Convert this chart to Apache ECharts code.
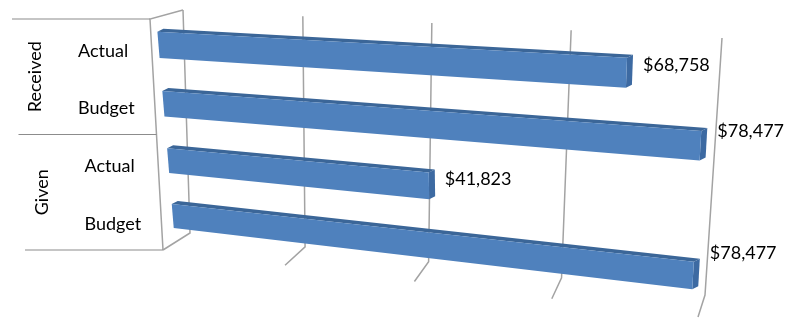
<!DOCTYPE html>
<html>
<head>
<meta charset="utf-8">
<script src="https://cdn.jsdelivr.net/npm/echarts@6.0.0/dist/echarts.min.js"></script>
<style>
  html, body { margin: 0; padding: 0; background: #fff; }
  #chart { width: 791px; height: 318px; }
</style>
</head>
<body>
<div id="chart"></div>
<script>
// 数据
const groups = ['Received', 'Given'];
const categories = ['Actual', 'Budget', 'Actual', 'Budget'];
const values = [68758, 78477, 41823, 78477];
const valueTicks = [0, 20000, 40000, 60000, 80000];

// 3D 透视布局（屏幕四边形：左上、右上、右下、左下）
const BAR_PLANE = [[156, 15], [719, 43], [703, 308], [175, 243]];
const BACK_WALL = [[183, 10], [722, 38], [705, 295], [190, 233]];
const FLOOR = [[190, 233], [705, 295], [698, 317], [163, 250]];
const WALL_FRONT = [[150, 19], [163, 250]];
const DEPTH = [6, -3];          // 柱体厚度方向
const BAR_RATIO = 0.44;
const labelNudge = [7, 0, 7, -8];
const FONT = 'Lato, "Open Sans", sans-serif';

const BLUE = '#4f81bd';
const BLUE_TOP = '#3b6698';
const BLUE_END = '#3d6aa2';
const GRID_COLOR = '#a3a3a3';

// 单位正方形 -> 四边形 的透视映射
function quadMap(q) {
    const [x0, y0] = q[0], [x1, y1] = q[1], [x2, y2] = q[2], [x3, y3] = q[3];
    const dx1 = x1 - x2, dx2 = x3 - x2, dx3 = x0 - x1 + x2 - x3;
    const dy1 = y1 - y2, dy2 = y3 - y2, dy3 = y0 - y1 + y2 - y3;
    const den = dx1 * dy2 - dx2 * dy1;
    const g = (dx3 * dy2 - dx2 * dy3) / den;
    const h = (dx1 * dy3 - dx3 * dy1) / den;
    const a = x1 - x0 + g * x1, b = x3 - x0 + h * x3, c = x0;
    const d = y1 - y0 + g * y1, e = y3 - y0 + h * y3, f = y0;
    return (s, t) => {
        const w = g * s + h * t + 1;
        return [(a * s + b * t + c) / w, (d * s + e * t + f) / w];
    };
}
const barMap = quadMap(BAR_PLANE);
const wallMap = quadMap(BACK_WALL);
const floorMap = quadMap(FLOOR);

function lerp(p, q, k) {
    return [p[0] + (q[0] - p[0]) * k, p[1] + (q[1] - p[1]) * k];
}
function add(p, v) {
    return [p[0] + v[0], p[1] + v[1]];
}

// 网格线（背墙 + 地板）
function renderGrid(params, api) {
    const cs = params.coordSys;
    const s = (api.coord([api.value(0), 0])[0] - cs.x) / cs.width;
    const style = { stroke: GRID_COLOR, lineWidth: 1.5, fill: null };
    const top = wallMap(s, 0), bottom = wallMap(s, 1);
    const front = floorMap(s, 1);
    return {
        type: 'group',
        children: [
            { type: 'polyline', shape: { points: [top, bottom, front] }, style: style }
        ]
    };
}

// 3D 柱体
function renderBar(params, api) {
    const cs = params.coordSys;
    const v = api.value(0), idx = api.value(1);
    const p0 = api.coord([0, idx]);
    const p1 = api.coord([v, idx]);
    const half = api.size([0, 1])[1] * BAR_RATIO / 2;
    const toScreen = (x, y) => barMap((x - cs.x) / cs.width, (y - cs.y) / cs.height);

    const tl = toScreen(p0[0], p0[1] - half);
    const tr = toScreen(p1[0], p1[1] - half);
    const br = toScreen(p1[0], p1[1] + half);
    const bl = toScreen(p0[0], p0[1] + half);

    const topFace = [tl, tr, add(tr, DEPTH), add(tl, DEPTH)];
    const endFace = [tr, add(tr, DEPTH), add(br, DEPTH), br];

    return {
        type: 'group',
        children: [
            { type: 'polygon', shape: { points: topFace }, style: { fill: BLUE_TOP } },
            { type: 'polygon', shape: { points: endFace }, style: { fill: BLUE_END } },
            { type: 'polygon', shape: { points: [tl, tr, br, bl] }, style: { fill: BLUE } },
            {
                type: 'text',
                x: tr[0] + 16,
                y: tr[1] + labelNudge[idx],
                style: {
                    text: '$' + v.toLocaleString('en-US'),
                    fill: '#000',
                    font: '18px ' + FONT,
                    align: 'left',
                    verticalAlign: 'middle'
                }
            }
        ]
    };
}

// 左侧分类表头
function buildLeftTable() {
    const els = [];
    const [wf0, wf1] = WALL_FRONT;
    const backTop = BACK_WALL[0];
    // 侧墙前沿和顶边
    els.push({
        type: 'polyline',
        shape: { points: [backTop, wf0, wf1] },
        style: { stroke: GRID_COLOR, lineWidth: 1.5, fill: null }
    });
    // 分组线
    for (let k = 0; k <= groups.length; k++) {
        const p = lerp(wf0, wf1, k / groups.length);
        els.push({
            type: 'line',
            shape: { x1: p[0] - 138, y1: p[1], x2: p[0], y2: p[1] },
            style: { stroke: '#8c8c8c', lineWidth: 1.2 }
        });
    }
    // 分组名称（竖排）
    groups.forEach((g, k) => {
        const p = lerp(wf0, wf1, (k + 0.5) / groups.length);
        els.push({
            type: 'text',
            x: p[0] - 118,
            y: p[1],
            rotation: Math.PI / 2,
            style: {
                text: g, fill: '#000', font: '18px ' + FONT,
                align: 'center', verticalAlign: 'middle'
            }
        });
    });
    // 分类名称
    categories.forEach((c, i) => {
        const p = lerp(wf0, wf1, (i + 0.5) / categories.length);
        els.push({
            type: 'text',
            x: p[0] - 48.5,
            y: p[1] + 3,
            style: {
                text: c, fill: '#000', font: '18px ' + FONT,
                align: 'center', verticalAlign: 'middle'
            }
        });
    });
    return els;
}

const myChart = echarts.init(document.getElementById('chart'), null, { renderer: 'canvas' });
const options = {
    backgroundColor: '#fff',
    animation: false,
    grid: { left: 100, right: 91, top: 20, bottom: 58 },
    xAxis: { type: 'value', min: 0, max: 80000, interval: 20000, show: false },
    yAxis: { type: 'category', data: categories, inverse: true, show: false },
    graphic: buildLeftTable(),
    series: [
        {
            name: 'grid',
            type: 'custom',
            z: 1,
            silent: true,
            renderItem: renderGrid,
            data: valueTicks.map(t => [t, 0])
        },
        {
            name: 'bars',
            type: 'custom',
            z: 2,
            renderItem: renderBar,
            data: values.map((v, i) => [v, i])
        }
    ]
};
myChart.setOption(options);
</script>
</body>
</html>
